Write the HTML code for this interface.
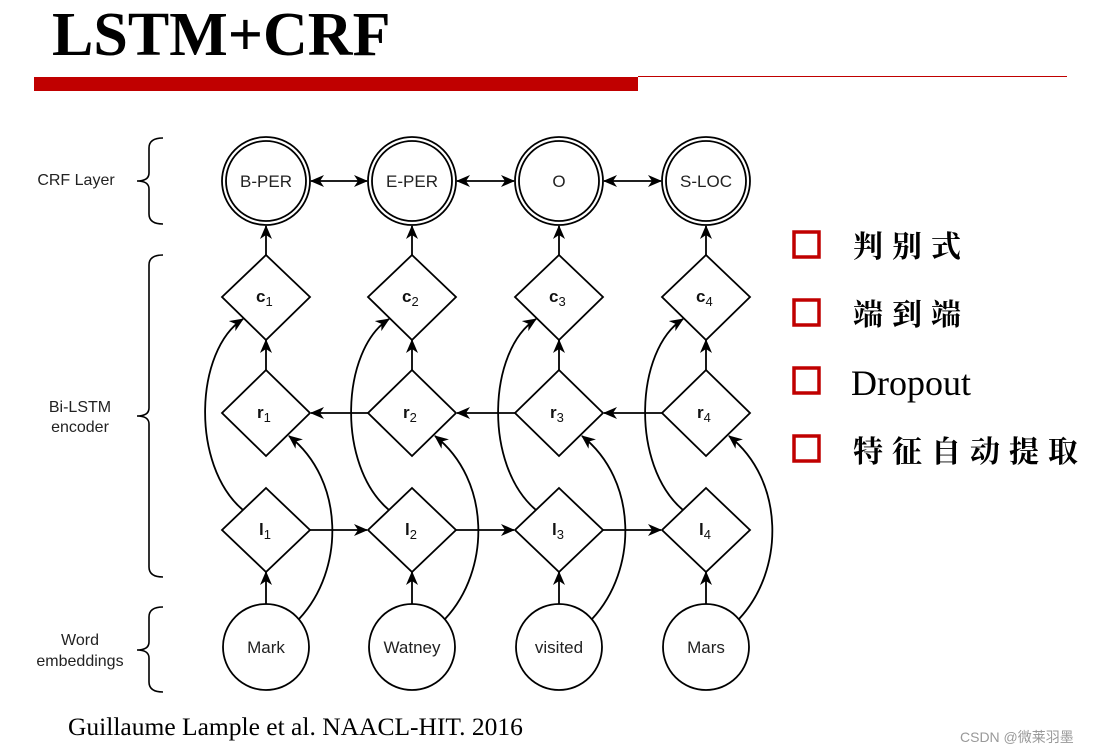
<!DOCTYPE html>
<html><head><meta charset="utf-8"><style>
html,body{margin:0;padding:0;background:#fff;}
body{width:1111px;height:754px;position:relative;overflow:hidden;}
.t{position:absolute;white-space:nowrap;}
</style></head><body>
<div class="t" style="left:52px;top:0px;font:bold 62px 'Liberation Serif',serif;color:#000;">LSTM+CRF</div>
<div style="position:absolute;left:34px;top:77px;width:604px;height:14px;background:#c00000;"></div>
<div style="position:absolute;left:638px;top:76px;width:429px;height:1px;background:#c00000;"></div>
<svg width="1111" height="754" style="position:absolute;left:0;top:0" font-family="Liberation Sans, sans-serif">
<defs><marker id="a" markerWidth="14" markerHeight="12" refX="13" refY="6" orient="auto-start-reverse" markerUnits="userSpaceOnUse"><path d="M0,0 L14,6 L0,12 L4,6 z" fill="#000"/></marker></defs>
<g fill="none" stroke="#000" stroke-width="1.6">
<path d="M163,138 Q149,138 149,148 L149,173 Q149,181 137,181 Q149,181 149,189 L149,214 Q149,224 163,224"/>
<path d="M163,255 Q149,255 149,265 L149,408 Q149,416 137,416 Q149,416 149,424 L149,567 Q149,577 163,577"/>
<path d="M163,607 Q149,607 149,617 L149,642 Q149,650 137,650 Q149,650 149,658 L149,682 Q149,692 163,692"/>
</g>
<g font-size="16" fill="#222" text-anchor="middle">
<text x="76" y="185">CRF Layer</text>
<text x="80" y="412">Bi-LSTM</text>
<text x="80" y="432">encoder</text>
<text x="80" y="645">Word</text>
<text x="80" y="666">embeddings</text>
</g>
<g fill="none" stroke="#000" stroke-width="1.8">
<circle cx="266" cy="181" r="44"/><circle cx="266" cy="181" r="40"/>
<circle cx="412" cy="181" r="44"/><circle cx="412" cy="181" r="40"/>
<circle cx="559" cy="181" r="44"/><circle cx="559" cy="181" r="40"/>
<circle cx="706" cy="181" r="44"/><circle cx="706" cy="181" r="40"/>
<line x1="311" y1="181" x2="367" y2="181" marker-start="url(#a)" marker-end="url(#a)"/>
<line x1="457" y1="181" x2="514" y2="181" marker-start="url(#a)" marker-end="url(#a)"/>
<line x1="604" y1="181" x2="661" y2="181" marker-start="url(#a)" marker-end="url(#a)"/>
<g id="col">
<path d="M266,255 L310,297 L266,340 L222,297 Z"/>
<path d="M266,370 L310,413 L266,456 L222,413 Z"/>
<path d="M266,488 L310,530 L266,572 L222,530 Z"/>
<circle cx="266" cy="647" r="43"/>
<line x1="266" y1="255" x2="266" y2="226" marker-end="url(#a)"/>
<line x1="266" y1="370" x2="266" y2="340" marker-end="url(#a)"/>
<line x1="266" y1="604" x2="266" y2="572" marker-end="url(#a)"/>
<path d="M243,510 C190,465 195,350 243,319" marker-end="url(#a)"/>
<path d="M299,619 C345,570 345,480 289,436" marker-end="url(#a)"/>
</g>
<use href="#col" x="146"/>
<use href="#col" x="293"/>
<use href="#col" x="440"/>
<line x1="368" y1="413" x2="311" y2="413" marker-end="url(#a)"/>
<line x1="515" y1="413" x2="457" y2="413" marker-end="url(#a)"/>
<line x1="662" y1="413" x2="604" y2="413" marker-end="url(#a)"/>
<line x1="310" y1="530" x2="367" y2="530" marker-end="url(#a)"/>
<line x1="456" y1="530" x2="514" y2="530" marker-end="url(#a)"/>
<line x1="603" y1="530" x2="661" y2="530" marker-end="url(#a)"/>
</g>
<g font-size="17" fill="#222" text-anchor="middle">
<text x="266" y="187">B-PER</text><text x="412" y="187">E-PER</text><text x="559" y="187">O</text><text x="706" y="187">S-LOC</text>
<text x="266" y="653">Mark</text><text x="412" y="653">Watney</text><text x="559" y="653">visited</text><text x="706" y="653">Mars</text>
</g>
<g font-size="17" fill="#111">
<text x="256" y="302" font-weight="bold">c<tspan font-weight="normal" font-size="13" dy="4">1</tspan></text>
<text x="402" y="302" font-weight="bold">c<tspan font-weight="normal" font-size="13" dy="4">2</tspan></text>
<text x="549" y="302" font-weight="bold">c<tspan font-weight="normal" font-size="13" dy="4">3</tspan></text>
<text x="696" y="302" font-weight="bold">c<tspan font-weight="normal" font-size="13" dy="4">4</tspan></text>
<text x="257" y="418" font-weight="bold">r<tspan font-weight="normal" font-size="13" dy="4">1</tspan></text>
<text x="403" y="418" font-weight="bold">r<tspan font-weight="normal" font-size="13" dy="4">2</tspan></text>
<text x="550" y="418" font-weight="bold">r<tspan font-weight="normal" font-size="13" dy="4">3</tspan></text>
<text x="697" y="418" font-weight="bold">r<tspan font-weight="normal" font-size="13" dy="4">4</tspan></text>
<text x="259" y="535" font-weight="bold">l<tspan font-weight="normal" font-size="13" dy="4">1</tspan></text>
<text x="405" y="535" font-weight="bold">l<tspan font-weight="normal" font-size="13" dy="4">2</tspan></text>
<text x="552" y="535" font-weight="bold">l<tspan font-weight="normal" font-size="13" dy="4">3</tspan></text>
<text x="699" y="535" font-weight="bold">l<tspan font-weight="normal" font-size="13" dy="4">4</tspan></text>
</g>
<g fill="none" stroke="#c00000" stroke-width="3.5">
<rect x="794" y="232" width="25" height="25"/>
<rect x="794" y="300" width="25" height="25"/>
<rect x="794" y="368" width="25" height="25"/>
<rect x="794" y="436" width="25" height="25"/>
</g>
<g font-family="Liberation Serif, Noto Serif CJK SC, serif" fill="#000">
<text x="853" y="257" font-size="30" font-weight="bold" letter-spacing="9">判别式</text>
<text x="853" y="325" font-size="30" font-weight="bold" letter-spacing="9">端到端</text>
<text x="851" y="395" font-size="36">Dropout</text>
<text x="853" y="462" font-size="30" font-weight="bold" letter-spacing="9">特征自动提取</text>
<text x="68" y="735" font-size="25.5">Guillaume Lample et al. NAACL-HIT. 2016</text>
</g>
<text x="960" y="742" font-size="14" fill="#999" font-family="Liberation Sans, Noto Sans CJK SC, sans-serif">CSDN @微莱羽墨</text>
</svg>
</body></html>
